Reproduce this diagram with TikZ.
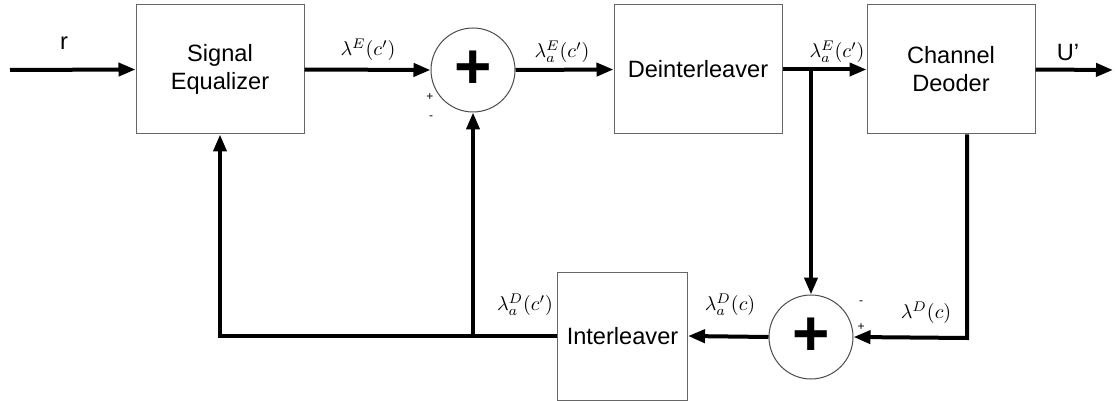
\documentclass[tikz,border=0pt]{standalone}
\usepackage{amsmath,amssymb}
\usepackage{fontspec}
\setmainfont{Liberation Sans}
\usepackage{tikz}
\usetikzlibrary{positioning, arrows.meta}

\begin{document}
\begin{tikzpicture}[
    x=0.5pt, y=-0.5pt,
    >={Triangle[length=8.5pt,width=6.5pt]},
    block/.style={draw=gray!80!black, line width=0.5pt, minimum width=84pt, minimum height=64.5pt, align=center, font=\fontsize{11.8}{14}\selectfont},
    summer/.style={draw=gray!60!black, circle, line width=0.5pt, minimum size=42pt, inner sep=0pt, font=\fontsize{32}{32}\selectfont\bfseries},
    sig/.style={draw, line width=2pt},
    lbl/.style={font=\fontsize{9.8}{11}\selectfont, inner sep=0pt},
    sgn/.style={font=\fontsize{6}{7}\selectfont, inner sep=0pt}
]
\useasboundingbox (0,0) rectangle (1115,401);

% blocks
\node[block] (eq) at (220,69.5) {Signal\\Equalizer};
\node[block] (deint) at (698,69.5) {Deinterleaver};
\node[block] (dec) at (951,69.5) {Channel\\Deoder};
\node[block, minimum width=65pt, minimum height=64pt] (intl) at (622.5,336) {Interleaver};
\node[summer] (sum1) at (473,70) {+};
\node[summer] (sum2) at (811,337) {+};

% free ends and corners
\coordinate (in) at (10,70);
\coordinate (out) at (1113,70);
\coordinate (br) at (sum2 |- deint.east);
\coordinate (fb) at (intl.west -| sum1.south);
\coordinate (dcorner) at (967,338);

% forward path
\draw[sig,->] (in) -- (eq.west);
\draw[sig,->] (eq.east) -- (sum1.west);
\draw[sig,->] (sum1.east) -- (deint.west);
\draw[sig,->] (deint.east) -- (dec.west);
\draw[sig,->] (dec.east) -- (out);

% feedback
\draw[sig,->] (br) -- (sum2.north);
\draw[sig,->] (dec.south -| dcorner) -- (dcorner) -- (sum2.east);
\draw[sig,->] (sum2.west) -- (intl.east);
\draw[sig,->] (intl.west) -| (eq.south);
\draw[sig,->] (fb) -- (sum1.south);

% labels
\node[font=\fontsize{11.8}{14}\selectfont] (rin) at (64,43) {r};
\node[font=\fontsize{11.8}{14}\selectfont] (uout) at (1068,52) {U’};
\node[lbl] (lE) at (368,50) {$\lambda^{E}(c')$};
\node[lbl] (laE1) at (562,52) {$\lambda_a^{E}(c')$};
\node[lbl] (laE2) at (837,52) {$\lambda_a^{E}(c')$};
\node[lbl] (laDp) at (525,305) {$\lambda_a^{D}(c')$};
\node[lbl] (laD) at (730,305) {$\lambda_a^{D}(c)$};
\node[lbl] (lD) at (926,313) {$\lambda^{D}(c)$};

% signs at the summers
\node[sgn] (s1p) at (430,97) {+};
\node[sgn] (s1m) at (431,118) {-};
\node[sgn] (s2m) at (861,303) {-};
\node[sgn] (s2p) at (861,327) {+};
\end{tikzpicture}
\end{document}
